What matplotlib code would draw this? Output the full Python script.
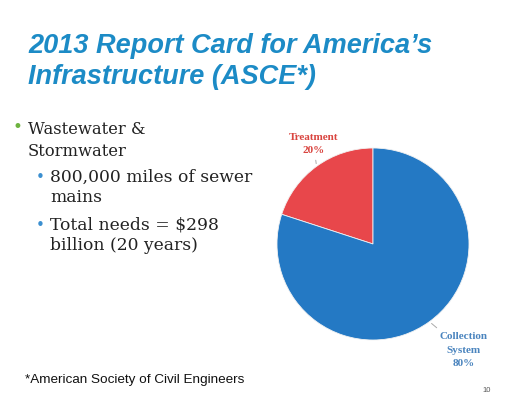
import matplotlib.pyplot as plt
import numpy as np

# Данные круговой диаграммы
categories = ['Treatment', 'Collection\nSystem']
shares = [20, 80]
colors = ['#E8474B', '#2479C4']
label_colors = ['#D9443F', '#4A84BE']

# Тексты слайда
title_lines = "2013 Report Card for America\u2019s\nInfrastructure (ASCE*)"
bullet_main = "Wastewater &\nStormwater"
sub_bullets = ["800,000 miles of sewer\nmains", "Total needs = $298\nbillion (20 years)"]
footnote = "*American Society of Civil Engineers"
page_number = "10"

W, H = 517, 399
fig = plt.figure(figsize=(W / 100, H / 100), dpi=100)
fig.patch.set_facecolor('white')

# Заголовок
fig.text(28 / W, 1 - 33 / H, title_lines, ha='left', va='top', fontsize=19.5,
         fontweight='bold', fontstyle='italic', color='#1C8BC6',
         family='Liberation Sans', linespacing=1.25)

# Маркированный список
serif = 'DejaVu Serif'
fig.text(17 / W, 1 - 127 / H, '\u2022', ha='center', va='center', fontsize=12, color='#6DB33F')
fig.text(28 / W, 1 - 121 / H, bullet_main, ha='left', va='top', fontsize=11.8,
         family=serif, color='#222222', linespacing=1.4)
sub_y = [169, 217]
for y, t in zip(sub_y, sub_bullets):
    fig.text(40 / W, 1 - (y + 9) / H, '\u2022', ha='center', va='center', fontsize=11, color='#3B8FD0')
    fig.text(50 / W, 1 - y / H, t, ha='left', va='top', fontsize=12.3,
             family=serif, color='#222222', linespacing=1.25)

# Сноска и номер страницы
fig.text(25 / W, 1 - 380 / H, footnote, ha='left', va='center', fontsize=9.7,
         family='Liberation Sans', color='#111111')
fig.text(487 / W, 1 - 391 / H, page_number, ha='center', va='center', fontsize=5.5,
         family='Liberation Sans', color='#555555')

# Круговая диаграмма
cx, cy, r = 373, 244, 96
ax = fig.add_axes([(cx - r) / W, (H - cy - r) / H, 2 * r / W, 2 * r / H])
wedges, _ = ax.pie(shares, colors=colors, startangle=90, counterclock=True, radius=1,
                   wedgeprops=dict(linewidth=0.6, edgecolor='#f2f2f2'))
ax.set_xlim(-1, 1)
ax.set_ylim(-1, 1)
ax.set_aspect('auto')
ax.axis('off')

label_pos = [(-0.62, 0.93), (0.94, -0.92)]
for w, cat, val, col, pos in zip(wedges, categories, shares, label_colors, label_pos):
    mid = np.deg2rad((w.theta1 + w.theta2) / 2)
    ax.annotate(f"{cat}\n{val}%", xy=(np.cos(mid), np.sin(mid)), xytext=pos,
                ha='center', va='bottom' if pos[1] > 0 else 'top', fontsize=8,
                fontweight='bold', family='Liberation Serif', color=col, linespacing=1.6,
                arrowprops=dict(arrowstyle='-', color='#aaaaaa', lw=0.7),
                annotation_clip=False)

fig.savefig('out.png', dpi=100)
